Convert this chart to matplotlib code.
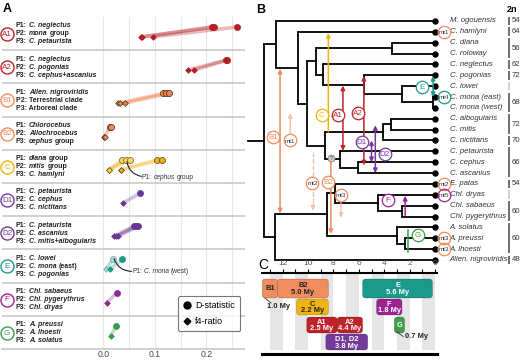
import matplotlib
matplotlib.use('Agg')
import matplotlib.pyplot as plt
from matplotlib.lines import Line2D
from matplotlib.patches import FancyBboxPatch
from matplotlib.transforms import blended_transform_factory

plt.rcParams['font.family'] = ['Liberation Sans', 'DejaVu Sans']

# ---------------- panel A data ----------------
test_names = ['A1', 'A2', 'B1', 'B2', 'C', 'D1', 'D2', 'E', 'F', 'G']
test_p1 = ['*C. neglectus*', '*C. neglectus*', '*Allen. nigroviridis*', '*Chlorocebus*',
           '*diana* group', '*C. petaurista*', '*C. petaurista*', '*C. lowei*',
           '*Chl. sabaeus*', '*A. preussi*']
test_p2 = ['*mona* group', '*C. pogonias*', 'Terrestrial clade', '*Allochrocebus*',
           '*mitis* group', '*C. cephus*', '*C. ascanius*', '*C. mona* (east)',
           '*Chl. pygerythrus*', '*A. lhoesti*']
test_p3 = ['*C. petaurista*', '*C. cephus+ascanius*', 'Arboreal clade', '*cephus* group',
           '*C. hamlyni*', '*C. nictitans*', '*C. mitis+albogularis*', '*C. pogonias*',
           '*Chl. dryas*', '*A. solatus*']
d_stat = [[0.211, 0.215, 0.260], [0.237, 0.240], [0.116, 0.122, 0.128], [0.013, 0.015],
          [0.105, 0.113], [0.072], [0.060, 0.064, 0.068], [0.036], [0.027], [0.025]]
f4_ratio = [[0.074, 0.076, 0.097], [0.164, 0.176], [0.028, 0.033, 0.042], [0.002, 0.003],
            [0.034, 0.035], [0.039], [0.021, 0.025, 0.029], [0.013], [0.007], [0.015]]
# alternative P1 (drawn lighter)
alt_rows = [4, 7]
alt_d = [[0.036, 0.045, 0.052], [0.019]]
alt_f4 = [[0.011, 0.011, 0.012], [0.005]]
alt_notes = ['P1: *cephus* group', 'P1: *C. mona* (west)']

# ---------------- panel B data ----------------
tip_names = ['M. ogouensis', 'C. hamlyni', 'C. diana', 'C. roloway', 'C. neglectus',
             'C. pogonias', 'C. lowei', 'C. mona (east)', 'C. mona (west)', 'C. albogularis',
             'C. mitis', 'C. nictitans', 'C. petaurista', 'C. cephus', 'C. ascanius',
             'E. patas', 'Chl. dryas', 'Chl. sabaeus', 'Chl. pygerythrus', 'A. solatus',
             'A. preussi', 'A. lhoesti', 'Allen. nigroviridis']
tip_parent = ['arboreal', 'cerco', 'diana_g', 'diana_g', 'n323', 'n364', 'mona_g', 'mona',
              'mona', 'alb_mit', 'alb_mit', 'mitis_g', 'cephus_g', 'ceph_asc', 'ceph_asc',
              'patas_chl', 'chl', 'sab_pyg', 'sab_pyg', 'alloch', 'pre_lho', 'pre_lho', 'allen_n']
node_names = ['root', 'arboreal', 'cerco', 'n307', 'n315', 'diana_g', 'n323', 'n364',
              'mona_g', 'mona', 'n325', 'mitis_g', 'alb_mit', 'cephus_g', 'ceph_asc',
              'allen_n', 'terr', 'patas_chl', 'chl', 'sab_pyg', 'alloch', 'pre_lho']
node_age = [13.5, 12.5, 10.8, 10.1, 9.4, 3.4, 8.8, 5.6, 2.6, 0.15, 8.7, 4.1, 3.5, 7.5, 6.1,
            12.6, 8.5, 7.9, 4.5, 2.6, 3.0, 2.4]
node_parent = [None, 'root', 'arboreal', 'cerco', 'n307', 'n315', 'n315', 'n323', 'n364',
               'mona_g', 'n307', 'n325', 'mitis_g', 'n325', 'cephus_g', 'root', 'allen_n',
               'terr', 'patas_chl', 'chl', 'terr', 'alloch']
chrom_first = [0, 1, 2, 4, 5, 6, 7, 9, 11, 12, 15, 16, 17, 19, 22]
chrom_last = [0, 1, 3, 4, 5, 6, 8, 10, 11, 14, 15, 16, 18, 21, 22]
chrom_2n = ['54', '64', '56', '62', '72', '', '68', '72', '70', '66', '54', '', '60', '60', '48']

# ---------------- panel C data ----------------
bar_names = ['B1', 'B2', 'C', 'A1', 'A2', 'D1, D2', 'E', 'F', 'G']
bar_start = [13.6, 12.4, 10.9, 10.1, 7.7, 8.6, 5.7, 4.6, 3.2]
bar_end = [12.4, 8.4, 8.4, 7.7, 5.7, 5.3, 0.2, 2.6, 2.4]
bar_dur = ['1.0 My', '5.0 My', '2.2 My', '2.5 My', '4.4 My', '3.8 My', '5.6 My', '1.8 My', '0.7 My']

# colours
RED, SALMON, LSALMON = '#bf2229', '#f08c5e', '#f6b99b'
YELLOW, PURPLE, TEAL = '#f0b40c', '#74399a', '#1b9a8c'
MAGENTA, GREEN = '#9d238e', '#3f9c48'
row_colors = ['#b01f24', '#b01f24', '#ef8450', '#f08a62', '#e8b01c', '#6a3794', '#6a3794',
              '#1e9a88', '#8d2b8b', '#3d9a48']
row_edges = ['#b01f24', '#b01f24', '#3b2a1a', '#3b2a1a', '#5a4510', '#6a3794', '#6a3794',
             '#1e9a88', '#8d2b8b', '#3d9a48']
badge_colors = [RED, RED, SALMON, SALMON, YELLOW, PURPLE, PURPLE, TEAL, MAGENTA, GREEN]
alt_colors = ['#f6d46a', '#a8d8d2']
alt_edges = ['#7a5a10', '#6aa8a0']

W, H = 520, 360
fig = plt.figure(figsize=(W / 100, H / 100), dpi=100)


def px_rect(x0, y0, x1, y1):
    return [x0 / W, 1 - y1 / H, (x1 - x0) / W, (y1 - y0) / H]


def rich_text(ax, x, y, s, size, weight='bold', color='#222', transform=None):
    # '*' toggles italic
    parts = s.split('*')
    t = ax.text(x, y, parts[0].rstrip(), transform=transform or ax.transData, fontsize=size,
                fontweight=weight, color=color, va='center', ha='left')
    prev_space = parts[0].endswith(' ')
    for k in range(1, len(parts)):
        seg = parts[k]
        if not seg.strip():
            prev_space = prev_space or seg != ''
            continue
        lead = prev_space or seg.startswith(' ')
        prev_space = seg.endswith(' ')
        t = ax.annotate(seg.strip(), xy=(1, 0), xycoords=t,
                        xytext=(0.28 * size if lead else 0, 0), textcoords='offset points',
                        fontsize=size, fontweight=weight,
                        fontstyle='italic' if k % 2 else 'normal', color=color,
                        va='bottom', ha='left', annotation_clip=False)
    return t


# ================= panel A =================
axA = fig.add_axes(px_rect(2, 17, 245, 349))
axA.set_xlim(-0.196, 0.2746)
axA.set_ylim(10, 0)
for s in ['top', 'left', 'right']:
    axA.spines[s].set_visible(False)
axA.spines['bottom'].set_color('#c8c8c8')
axA.spines['bottom'].set_linewidth(1.2)
axA.set_yticks([])
axA.set_xticks([0.0, 0.1, 0.2])
axA.set_xticklabels(['0.0', '0.1', '0.2'])
axA.tick_params(axis='x', length=0, labelsize=6.2, labelcolor='#444', pad=1)
for v in [0, 0.05, 0.1, 0.15, 0.2, 0.25]:
    axA.axvline(v, color='#e8e8e8', lw=0.8, zorder=0)
for r in range(1, 10):
    axA.axhline(r, color='#c8c8c8', lw=1.2, zorder=1)

blend = blended_transform_factory(axA.transAxes, axA.transData)
for i in range(10):
    c, ec = row_colors[i], row_edges[i]
    for d, f in zip(d_stat[i], f4_ratio[i]):
        axA.plot([f, d], [i + 0.6, i + 0.3], color=c, lw=2.6, alpha=0.3,
                 solid_capstyle='round', zorder=2)
    axA.plot(d_stat[i], [i + 0.3] * len(d_stat[i]), 'o', ms=4.4, color=c, mec=ec, mew=0.5,
             zorder=4)
    axA.plot(f4_ratio[i], [i + 0.6] * len(f4_ratio[i]), 'D', ms=2.9, color=c, mec=ec,
             mew=0.5, zorder=4)
    # label block
    axA.plot(0.0206, i + 0.51, 'o', ms=9.4, mfc='white', mec=badge_colors[i], mew=1.0,
             transform=blend, clip_on=False, zorder=5)
    axA.text(0.0206, i + 0.52, test_names[i], transform=blend, fontsize=5.8,
             color=badge_colors[i], ha='center', va='center', zorder=6)
    for j, lab in enumerate([test_p1[i], test_p2[i], test_p3[i]]):
        rich_text(axA, 0.0576, i + 0.27 + 0.24 * j, 'P%d: %s' % (j + 1, lab), 5.0,
                  transform=blend)

for k, i in enumerate(alt_rows):
    c, ec = alt_colors[k], alt_edges[k]
    for d, f in zip(alt_d[k], alt_f4[k]):
        axA.plot([f, d], [i + 0.6, i + 0.3], color=row_colors[i], lw=2.6, alpha=0.3,
                 solid_capstyle='round', zorder=2)
    axA.plot(alt_d[k], [i + 0.3] * len(alt_d[k]), 'o', ms=4.4, color=c, mec=ec, mew=0.5,
             zorder=3)
    axA.plot(alt_f4[k], [i + 0.6] * len(alt_f4[k]), 'D', ms=2.9, color=c, mec=ec, mew=0.5,
             zorder=3)

# notes for the lighter points
axA.annotate('', xy=(0.046, 4.36), xytext=(0.074, 4.80),
             arrowprops=dict(arrowstyle='-', color='#222', lw=0.8,
                             connectionstyle='arc3,rad=-0.35', shrinkA=0, shrinkB=0))
rich_text(axA, 0.075, 4.82, alt_notes[0], 4.8, weight='normal', color='#333')
axA.annotate('', xy=(0.021, 7.28), xytext=(0.055, 7.66),
             arrowprops=dict(arrowstyle='-', color='#222', lw=0.8,
                             connectionstyle='arc3,rad=-0.35', shrinkA=0, shrinkB=0))
rich_text(axA, 0.056, 7.68, alt_notes[1], 4.8, weight='normal', color='#333')

leg_handles = [Line2D([], [], marker='o', ls='', color='black', ms=5),
               Line2D([], [], marker='D', ls='', color='black', ms=3.4)]
leg = axA.legend(leg_handles, ['D-statistic', 'f4-ratio'], loc='lower right',
                 bbox_to_anchor=(1.0, 0.04), fontsize=6.5, frameon=True, fancybox=True,
                 borderpad=0.6, labelspacing=0.7, handlelength=0.8, handletextpad=0.5)
leg.get_frame().set_edgecolor('#555555')
leg.get_frame().set_linewidth(0.8)

# ================= panel B =================
XL, XR = (435 - 245) / 12.7, (435 - 520) / 12.7
axB = fig.add_axes(px_rect(245, 15, 520, 268))
axB.set_xlim(XL, XR)
axB.set_ylim(22.74, -0.55)
axB.axis('off')

pos = {}
children = {n: [] for n in node_names}
for k, (t, p) in enumerate(zip(tip_names, tip_parent)):
    pos[t] = (0.0, float(k))
    children[p].append(t)
for n, p in zip(node_names, node_parent):
    if p is not None:
        children[p].append(n)
age_of = dict(zip(node_names, node_age))
for n in sorted(node_names, key=lambda m: age_of[m]):
    ys = [pos[c][1] for c in children[n]]
    pos[n] = (age_of[n], (min(ys) + max(ys)) / 2)

for n in node_names:
    x, y = pos[n]
    ys = [pos[c][1] for c in children[n]]
    axB.plot([x, x], [min(ys), max(ys)], color='black', lw=1.3, solid_capstyle='round', zorder=2)
    for c in children[n]:
        axB.plot([x, pos[c][0]], [pos[c][1], pos[c][1]], color='black', lw=1.3,
                 solid_capstyle='round', zorder=2)
rx, ry = pos['root']
axB.plot([rx, rx + 1.2], [ry, ry], color='black', lw=1.3, zorder=2)

for k, t in enumerate(tip_names):
    axB.plot(0, k, 'o', ms=3.6, color='black', zorder=3)
    axB.text(-1.15, k, t, fontsize=5.6, fontstyle='italic', color='#333', va='center', ha='left')

for a, b, lab in zip(chrom_first, chrom_last, chrom_2n):
    col = '#555555' if lab else '#c8c8c8'
    axB.plot([-5.83, -5.83], [a - 0.4, b + 0.4], color=col, lw=1.2, solid_capstyle='butt')
    if lab:
        axB.text(-6.05, (a + b) / 2, lab, fontsize=5.6, color='#333', va='center', ha='left')


def arrow(ax, x, y0, y1, color, style='-|>', lw=1.0, fc=None, ls='-'):
    ax.annotate('', xy=(x, y1), xytext=(x, y0),
                arrowprops=dict(arrowstyle=style, color=color, lw=lw, shrinkA=0, shrinkB=0,
                                mutation_scale=6, fc=fc or color, ls=ls), zorder=4)


def badge(ax, x, y, text, color, ms=9.0, fs=5.8, fill='white'):
    ax.plot(x, y, 'o', ms=ms, mfc=fill, mec=color, mew=0.9, zorder=5, clip_on=False)
    ax.text(x, y + 0.05, text, fontsize=fs, color='#333' if text.startswith('mt') else color,
            ha='center', va='center', zorder=6)


arrow(axB, 12.2, pos['terr'][1] - 0.1, pos['cerco'][1] + 0.1, SALMON, '<|-|>', lw=1.1)
arrow(axB, 11.4, 11.6, 8.5, LSALMON, lw=0.9, fc='white')
axB.plot([9.6, 9.6], [12.1, 17.0], color=LSALMON, lw=0.9, ls='--', zorder=4)
arrow(axB, 9.6, 16.9, 17.45, LSALMON, lw=0.9, fc='white')
arrow(axB, 8.2, 12.6, 19.6, SALMON, lw=1.1)
arrow(axB, 7.4, 16.0, 18.1, LSALMON, lw=0.9, fc='white')
arrow(axB, 8.4, 10.2, 1.1, YELLOW, lw=1.1)
arrow(axB, 7.25, 11.95, 5.95, RED, '<|-|>', lw=1.1)
arrow(axB, 5.6, 13.3, 5.05, RED, '<|-|>', lw=1.1)
arrow(axB, 5.0, 13.0, 11.0, PURPLE, '<|-|>', lw=1.1)
arrow(axB, 4.7, 14.0, 9.6, PURPLE, '<|-|>', lw=1.1)
arrow(axB, 0.15, 7.0, 5.05, TEAL, '<|-|>', lw=1.1)
arrow(axB, 2.35, 17.9, 16.1, MAGENTA, lw=1.1)
axB.plot([2.1, 2.1], [19.2, 21.3], color=GREEN, lw=1.1, zorder=4)

axB.plot(8.2, 12.6, 'o', ms=5, mfc='#c9c9c9', mec='#888', mew=0.6, zorder=5)
axB.text(8.2, 12.62, '?', fontsize=3.8, color='#555', ha='center', va='center', zorder=6)

badge(axB, 12.75, 10.7, 'B1', SALMON)
badge(axB, 11.4, 11.0, 'mt1', SALMON, fs=4.5)
badge(axB, 9.65, 14.9, 'mt2', SALMON, fs=4.5)
badge(axB, 8.4, 14.8, 'B2', SALMON)
badge(axB, 7.4, 16.0, 'mt3', SALMON, fs=4.5)
badge(axB, 8.9, 8.66, 'C', YELLOW)
badge(axB, 7.64, 8.66, 'A1', RED)
badge(axB, 6.06, 8.47, 'A2', RED)
badge(axB, 5.75, 11.1, 'D1', PURPLE)
badge(axB, 3.94, 12.25, 'D2', PURPLE)
badge(axB, 1.0, 6.1, 'E', TEAL)
badge(axB, 3.7, 16.5, 'F', MAGENTA)
badge(axB, 1.34, 19.7, 'G', GREEN)
for lab, k, col in [('mt4', 7, TEAL), ('mt1', 1, SALMON), ('mt2', 15, SALMON),
                    ('mt5', 16, MAGENTA), ('mt3', 20, SALMON), ('mt3', 21, SALMON)]:
    badge(axB, -0.7, k, lab, col, fs=4.5, fill='none')

# ================= panel C =================
axC = fig.add_axes(px_rect(245, 273, 520, 354))
axC.set_xlim(XL, XR)
axC.set_ylim(81, 0)
for s in ['left', 'right']:
    axC.spines[s].set_visible(False)
axC.spines['top'].set_bounds(13.6, -0.15)
axC.spines['top'].set_linewidth(1.5)
axC.spines['bottom'].set_bounds(13.6, -0.15)
axC.spines['bottom'].set_linewidth(2.2)
axC.set_yticks([])
axC.set_xticks(range(0, 13, 2))
axC.set_xticks(range(1, 14, 2), minor=True)
axC.tick_params(axis='x', which='both', top=True, bottom=False, labeltop=True,
                labelbottom=False, direction='out', length=3, width=0.8, labelsize=6,
                labelcolor='#555', pad=1)
for k in range(0, 13, 2):
    axC.axvspan(k + 1, k, ymin=0.05, ymax=1, color='#e6e6e6', lw=0, zorder=0)

bar_rows = [0, 0, 1, 2, 2, 3, 0, 1, 2]
row_top = [6, 26, 44, 61]
row_h = [19, 16, 16, 16]
bar_colors = [SALMON, SALMON, YELLOW, RED, RED, PURPLE, TEAL, MAGENTA, GREEN]
xscale = 275 / (XL - XR)
for k in range(len(bar_names)):
    x0, x1 = min(bar_start[k], bar_end[k]), max(bar_start[k], bar_end[k])
    top, h = row_top[bar_rows[k]], row_h[bar_rows[k]]
    box = FancyBboxPatch((x0, top), x1 - x0, h, boxstyle='round,pad=0,rounding_size=0.25',
                         mutation_aspect=xscale, fc=bar_colors[k], ec='#00000040', lw=0.5,
                         zorder=2 if k != 1 else 1)
    axC.add_patch(box)
    label = bar_names[k] if bar_names[k] in ('B1', 'G') else bar_names[k] + '\n' + bar_dur[k]
    tc = '#222' if bar_names[k] in ('B1', 'B2', 'C') else 'white'
    axC.text((x0 + x1) / 2, top + h / 2 + 0.5, label, fontsize=5.4, fontweight='bold',
             color=tc, ha='center', va='center', linespacing=1.0, zorder=3)

axC.plot([13.4, 12.9], [25, 30], color='#333', lw=0.6, zorder=3)
axC.text(13.2, 33, bar_dur[0], fontsize=5.4, fontweight='bold', color='#222',
         ha='left', va='center')
axC.plot([3.0, 2.5], [59, 63.5], color='#333', lw=0.6, zorder=3)
axC.text(2.4, 64, bar_dur[8], fontsize=5.4, fontweight='bold', color='#222',
         ha='left', va='center')

# panel letters and header
fig.text(3 / W, 1 - 9 / H, 'A', fontsize=9, fontweight='bold', va='center', ha='left')
fig.text(256 / W, 1 - 10 / H, 'B', fontsize=9, fontweight='bold', va='center', ha='left')
fig.text(258 / W, 1 - 265 / H, 'C', fontsize=10, va='center', ha='left')
fig.text(507 / W, 1 - 10 / H, '2n', fontsize=6.5, fontweight='bold', va='center', ha='left')

fig.savefig('out.png', dpi=100)
